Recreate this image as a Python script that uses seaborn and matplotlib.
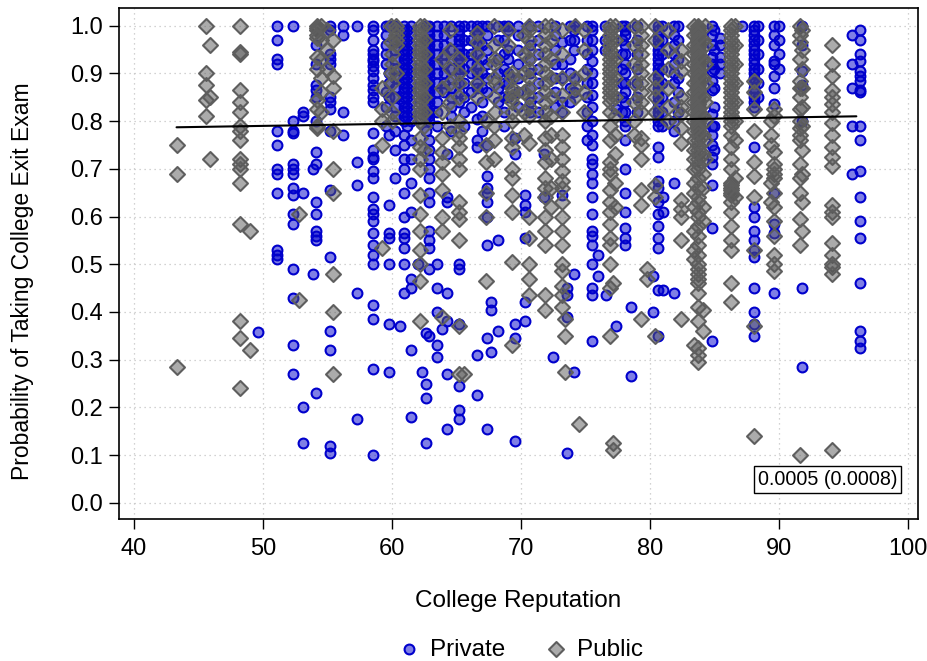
import matplotlib
matplotlib.use("Agg")
import matplotlib.pyplot as plt
import pandas as pd
import seaborn as sns

# Private colleges: (reputation, [exam probabilities]) read column by column
private_cols = [
    (49.6, [0.357]),
    (51.1, [1.0, 0.97, 0.93, 0.92, 0.78, 0.75, 0.70, 0.69, 0.65, 0.53, 0.52, 0.51]),
    (52.3, [1.0, 0.80, 0.78, 0.775, 0.71, 0.70, 0.69, 0.66, 0.645, 0.605, 0.585, 0.49, 0.43, 0.33, 0.27]),
    (53.1, [0.82, 0.81, 0.65, 0.20, 0.125]),
    (53.9, [0.70, 0.48]),
    (54.1, [0.96, 0.92, 0.875, 0.865, 0.85, 0.80, 0.735, 0.71, 0.63, 0.605, 0.57, 0.56, 0.55, 0.23]),
    (55.2, [1.0, 0.99, 0.94, 0.93, 0.92, 0.85, 0.84, 0.825, 0.78, 0.655, 0.515, 0.36, 0.32, 0.12, 0.105]),
    (56.2, [1.0, 0.98, 0.82, 0.77]),
    (57.3, [1.0, 0.715, 0.665, 0.44, 0.175]),
    (58.5, [1.0, 0.99, 0.97, 0.95, 0.94, 0.93, 0.925, 0.915, 0.905, 0.89, 0.875, 0.865, 0.85, 0.84,
            0.775, 0.74, 0.725, 0.72, 0.695, 0.68, 0.64, 0.615, 0.605, 0.59, 0.565, 0.54, 0.52, 0.50,
            0.415, 0.385, 0.28, 0.10]),
    (59.5, [1.0, 0.98, 0.96, 0.94, 0.92, 0.86, 0.83, 0.79]),
    (59.8, [1.0, 0.90, 0.88, 0.85, 0.77, 0.625, 0.565, 0.555, 0.50, 0.375, 0.275]),
    (60.2, [1.0, 0.97, 0.95, 0.93, 0.91, 0.89, 0.87, 0.85, 0.83, 0.81, 0.78, 0.74, 0.68]),
    (60.6, [0.37]),
    (60.9, [1.0, 0.99, 0.98, 0.97, 0.96, 0.95, 0.94, 0.93, 0.92, 0.91, 0.90, 0.89, 0.88, 0.87, 0.86,
            0.85, 0.84, 0.83, 0.82, 0.81, 0.80, 0.77, 0.75, 0.72, 0.70, 0.65, 0.60, 0.565, 0.555,
            0.535, 0.50, 0.44]),
    (61.2, [0.99, 0.97, 0.95, 0.93, 0.91, 0.89, 0.87, 0.85, 0.83, 0.81, 0.79]),
    (61.5, [1.0, 0.98, 0.96, 0.94, 0.92, 0.90, 0.88, 0.86, 0.84, 0.82, 0.80, 0.76, 0.72, 0.67, 0.61,
            0.47, 0.45, 0.32, 0.18]),
    (62.0, [0.50]),
    (62.3, [0.274]),
    (62.6, [1.0, 0.97, 0.95, 0.93, 0.91, 0.89, 0.87, 0.85, 0.83, 0.81, 0.78, 0.355, 0.25, 0.22, 0.125]),
    (62.9, [1.0, 0.99, 0.98, 0.97, 0.96, 0.95, 0.94, 0.93, 0.92, 0.91, 0.90, 0.89, 0.88, 0.87, 0.86,
            0.85, 0.84, 0.83, 0.82, 0.81, 0.80, 0.76, 0.74, 0.72, 0.70, 0.68, 0.65, 0.63, 0.57, 0.55,
            0.535, 0.49, 0.35]),
    (63.5, [1.0, 0.98, 0.96, 0.94, 0.92, 0.90, 0.88, 0.86, 0.84, 0.82, 0.79, 0.50, 0.45, 0.40, 0.33, 0.305]),
    (63.9, [0.365]),
    (64.0, [1.0, 0.98, 0.96, 0.94, 0.92, 0.90, 0.88, 0.86]),
    (64.3, [0.73, 0.64, 0.63, 0.44, 0.38, 0.27, 0.155]),
    (64.6, [1.0, 0.97, 0.95, 0.93, 0.91, 0.89, 0.87, 0.85, 0.83, 0.81, 0.78]),
    (65.2, [1.0, 0.99, 0.98, 0.97, 0.96, 0.95, 0.94, 0.93, 0.92, 0.91, 0.90, 0.88, 0.86, 0.84,
            0.50, 0.49, 0.375, 0.245, 0.195, 0.175]),
    (65.6, [1.0, 0.97, 0.94, 0.91, 0.88, 0.85, 0.82, 0.79]),
    (66.1, [1.0, 0.97, 0.94, 0.92, 0.90, 0.86, 0.83]),
    (66.6, [1.0, 0.99, 0.98, 0.96, 0.94, 0.92, 0.90, 0.88, 0.87, 0.805, 0.76, 0.745, 0.31, 0.225]),
    (67.0, [1.0, 0.96, 0.93, 0.90, 0.87, 0.84, 0.81, 0.78]),
    (67.4, [1.0, 0.98, 0.95, 0.92, 0.89, 0.86, 0.75, 0.685, 0.66, 0.65, 0.63, 0.60, 0.54, 0.345, 0.155]),
    (67.7, [0.42, 0.405, 0.315]),
    (68.2, [1.0, 0.97, 0.93, 0.90, 0.87, 0.84, 0.55, 0.36]),
    (68.7, [1.0, 0.97, 0.94, 0.91, 0.88, 0.85, 0.82, 0.79]),
    (69.0, [1.0, 0.99, 0.95, 0.93, 0.90, 0.88, 0.85]),
    (69.5, [0.765, 0.73, 0.375, 0.345, 0.13]),
    (69.8, [1.0, 0.98, 0.95, 0.92, 0.89, 0.86, 0.83]),
    (70.3, [0.645, 0.625, 0.61, 0.555, 0.42, 0.38]),
    (70.7, [1.0, 0.96, 0.93, 0.90, 0.87, 0.84, 0.82]),
    (71.3, [1.0, 0.97, 0.94, 0.91, 0.88, 0.85, 0.82]),
    (71.8, [0.73, 0.64]),
    (72.5, [0.305]),
    (72.6, [1.0, 0.98, 0.95, 0.92, 0.89, 0.86, 0.83]),
    (73.2, [0.965, 0.92, 0.89, 0.84, 0.82, 0.645]),
    (73.6, [0.45, 0.435, 0.39, 0.105]),
    (73.8, [1.0, 0.97, 0.93, 0.90, 0.87, 0.84]),
    (74.1, [1.0, 0.99, 0.97, 0.95, 0.89, 0.86, 0.48, 0.275]),
    (75.1, [1.0, 0.97, 0.94, 0.91, 0.88, 0.85, 0.82, 0.79, 0.76]),
    (75.5, [1.0, 0.99, 0.97, 0.95, 0.925, 0.90, 0.88, 0.855, 0.83, 0.80, 0.77, 0.75, 0.72, 0.71,
            0.69, 0.67, 0.64, 0.605, 0.57, 0.56, 0.54, 0.50, 0.45, 0.435, 0.34]),
    (76.0, [0.52, 0.475]),
    (76.5, [1.0, 0.97, 0.95]),
    (76.6, [0.435]),
    (77.4, [0.825, 0.37]),
    (77.8, [1.0, 0.97, 0.94, 0.91, 0.88, 0.85, 0.82]),
    (78.1, [1.0, 0.99, 0.98, 0.96, 0.94, 0.92, 0.90, 0.88, 0.86, 0.84, 0.82, 0.80, 0.79, 0.76, 0.70,
            0.65, 0.61, 0.575, 0.555, 0.54]),
    (78.5, [0.41, 0.265]),
    (79.0, [1.0, 0.97, 0.94, 0.91, 0.88, 0.85, 0.82]),
    (80.2, [0.475, 0.40]),
    (80.6, [1.0, 0.99, 0.98, 0.97, 0.96, 0.95, 0.94, 0.93, 0.92, 0.91, 0.90, 0.89, 0.88, 0.87, 0.86,
            0.85, 0.84, 0.83, 0.82, 0.81, 0.80, 0.79, 0.745, 0.725, 0.675, 0.66, 0.63, 0.605, 0.58,
            0.555, 0.535, 0.445, 0.35]),
    (80.9, [1.0, 0.97, 0.94, 0.91, 0.88, 0.85, 0.82, 0.79]),
    (81.0, [0.64, 0.61, 0.445]),
    (81.9, [1.0, 0.98, 0.96, 0.94, 0.92, 0.90, 0.88, 0.84, 0.80, 0.78, 0.67, 0.44]),
    (82.2, [1.0, 0.97, 0.93, 0.89, 0.86, 0.82]),
    (84.8, [1.0, 0.98, 0.96, 0.935, 0.92, 0.905, 0.885, 0.865, 0.815, 0.79, 0.77, 0.75, 0.725, 0.71,
            0.665, 0.575, 0.34]),
    (85.0, [0.99, 0.95, 0.91, 0.87, 0.83, 0.79, 0.74]),
    (85.4, [0.975, 0.96, 0.935, 0.92, 0.90]),
    (87.1, [1.0]),
    (88.1, [1.0, 0.99, 0.98, 0.97, 0.96, 0.95, 0.94, 0.93, 0.92, 0.91, 0.90, 0.89, 0.88, 0.87, 0.86,
            0.85, 0.84, 0.83, 0.745, 0.62, 0.60, 0.57, 0.55, 0.53, 0.515, 0.45, 0.40, 0.375, 0.35]),
    (88.4, [1.0, 0.97, 0.94, 0.91, 0.88, 0.85]),
    (89.6, [1.0, 0.98, 0.96, 0.925, 0.92, 0.895, 0.87, 0.835, 0.65, 0.585, 0.565, 0.44]),
    (90.0, [1.0, 0.97, 0.94, 0.91]),
    (91.8, [1.0, 0.96, 0.905, 0.875, 0.80, 0.45, 0.285]),
    (95.7, [0.98, 0.92, 0.87, 0.79, 0.69]),
    (96.3, [0.99, 0.97, 0.94, 0.925, 0.905, 0.895, 0.885, 0.865, 0.86, 0.79, 0.76, 0.695, 0.64,
            0.59, 0.555, 0.46, 0.36, 0.34, 0.325]),
]

# Public colleges
public_cols = [
    (43.3, [0.75, 0.69, 0.285]),
    (45.6, [1.0, 0.90, 0.875, 0.845, 0.81]),
    (45.9, [0.96, 0.85, 0.72]),
    (48.2, [1.0, 0.945, 0.94, 0.865, 0.84, 0.82, 0.79, 0.78, 0.76, 0.72, 0.71, 0.70, 0.67, 0.585,
            0.38, 0.345, 0.24]),
    (49.0, [0.57, 0.32]),
    (52.8, [0.605, 0.425]),
    (54.2, [1.0, 0.995, 0.99, 0.98, 0.975, 0.935, 0.91, 0.845, 0.825, 0.79, 0.785]),
    (54.5, [1.0, 0.97, 0.93, 0.89, 0.86, 0.82]),
    (55.0, [0.99, 0.95, 0.91]),
    (55.4, [0.97, 0.895, 0.87, 0.78, 0.70, 0.65, 0.48, 0.40, 0.27]),
    (59.2, [0.87, 0.825, 0.80, 0.75, 0.535]),
    (59.9, [1.0, 0.965, 0.90]),
    (60.0, [0.94, 0.92, 0.88, 0.85, 0.82, 0.80]),
    (60.3, [1.0, 0.99, 0.98, 0.97, 0.96, 0.90]),
    (62.2, [1.0, 0.99, 0.98, 0.97, 0.96, 0.95, 0.94, 0.93, 0.92, 0.91, 0.90, 0.89, 0.88, 0.87, 0.86,
            0.85, 0.84, 0.83, 0.82, 0.81, 0.80, 0.765, 0.745, 0.72, 0.70, 0.645, 0.605, 0.57, 0.53,
            0.50, 0.465, 0.38]),
    (62.5, [1.0, 0.97, 0.94, 0.91, 0.88, 0.85, 0.82, 0.79, 0.74]),
    (63.9, [0.93, 0.87, 0.82, 0.765, 0.735, 0.715, 0.69, 0.655, 0.60, 0.57, 0.39]),
    (64.5, [0.99, 0.95, 0.91, 0.88, 0.84, 0.79]),
    (65.2, [0.93, 0.90, 0.88, 0.85, 0.80, 0.78, 0.765, 0.745, 0.72, 0.70, 0.63, 0.61, 0.595, 0.55,
            0.37, 0.27]),
    (65.6, [0.27]),
    (66.6, [0.985, 0.965, 0.94, 0.91, 0.88, 0.85]),
    (67.3, [0.80, 0.75, 0.715, 0.65, 0.60, 0.465]),
    (67.9, [1.0, 0.96, 0.92, 0.89, 0.85, 0.79, 0.76, 0.72]),
    (68.0, [0.93, 0.88, 0.82]),
    (69.0, [0.99, 0.96]),
    (69.3, [0.90, 0.89, 0.87, 0.86, 0.85, 0.84, 0.82, 0.80, 0.765, 0.745, 0.70, 0.68, 0.645, 0.61,
            0.505, 0.33]),
    (70.2, [0.98, 0.94, 0.90, 0.86, 0.82, 0.77]),
    (70.6, [1.0, 0.99, 0.97, 0.95, 0.93, 0.91, 0.89, 0.87, 0.85, 0.83, 0.81, 0.755, 0.60, 0.555,
            0.50, 0.47, 0.435]),
    (71.9, [1.0, 0.98, 0.96, 0.94, 0.92, 0.90, 0.88, 0.86, 0.84, 0.82, 0.80, 0.765, 0.74, 0.715,
            0.68, 0.66, 0.64, 0.60, 0.57, 0.54, 0.435, 0.405]),
    (72.3, [1.0, 0.97, 0.93, 0.89, 0.85, 0.81, 0.77, 0.72, 0.66, 0.62]),
    (73.2, [0.99, 0.94, 0.89, 0.855, 0.82, 0.77, 0.745, 0.72, 0.695, 0.675, 0.66, 0.63, 0.60, 0.57,
            0.54, 0.50, 0.485, 0.455, 0.435, 0.41]),
    (73.4, [0.385, 0.35, 0.275]),
    (74.2, [1.0, 0.89, 0.87, 0.85]),
    (74.5, [0.165]),
    (74.9, [0.99, 0.95, 0.90, 0.86, 0.82]),
    (76.9, [1.0, 0.99, 0.98, 0.97, 0.96, 0.95, 0.94, 0.93, 0.92, 0.91, 0.90, 0.89, 0.88, 0.87, 0.86,
            0.85, 0.84, 0.82, 0.79, 0.76, 0.715, 0.70, 0.69, 0.655, 0.63, 0.61, 0.585, 0.555, 0.54,
            0.50, 0.45, 0.35]),
    (77.1, [0.46, 0.125, 0.11]),
    (77.3, [1.0, 0.97, 0.93, 0.89, 0.85, 0.81, 0.77, 0.73, 0.67, 0.62]),
    (78.8, [1.0, 0.96, 0.92, 0.88, 0.84, 0.80, 0.77]),
    (79.3, [1.0, 0.98, 0.96, 0.94, 0.92, 0.90, 0.88, 0.86, 0.84, 0.82, 0.765, 0.75, 0.72, 0.655,
            0.625, 0.385]),
    (79.8, [0.49, 0.47]),
    (80.4, [1.0, 0.97, 0.89, 0.87, 0.85, 0.82, 0.665, 0.64, 0.35]),
    (81.4, [0.99, 0.95, 0.91, 0.87, 0.83, 0.80]),
    (82.4, [0.95, 0.925, 0.905, 0.85, 0.83, 0.815, 0.785, 0.755, 0.635, 0.615, 0.60, 0.55, 0.385]),
    (83.4, [1.0, 0.98, 0.96, 0.94, 0.92, 0.90, 0.88, 0.86, 0.84, 0.82, 0.80, 0.78, 0.76, 0.74, 0.72,
            0.70, 0.67, 0.65, 0.62, 0.57, 0.53, 0.51, 0.33]),
    (83.7, [1.0, 0.995, 0.99, 0.985, 0.98, 0.975, 0.97, 0.965, 0.96, 0.955, 0.95, 0.945, 0.94, 0.935,
            0.93, 0.925, 0.92, 0.915, 0.91, 0.905, 0.90, 0.895, 0.89, 0.885, 0.88, 0.875, 0.87, 0.865,
            0.86, 0.855, 0.85, 0.845, 0.84, 0.835, 0.83, 0.825, 0.82, 0.815, 0.81, 0.805, 0.80, 0.795,
            0.79, 0.785, 0.78, 0.77, 0.76, 0.75, 0.74, 0.73, 0.72, 0.71, 0.70, 0.68, 0.66, 0.64, 0.63,
            0.61, 0.60, 0.58, 0.56, 0.54, 0.52, 0.50, 0.49, 0.48, 0.47, 0.46, 0.44, 0.41, 0.38, 0.325,
            0.31, 0.295]),
    (84.1, [0.97, 0.93, 0.89, 0.85, 0.81, 0.77, 0.73, 0.69, 0.66, 0.62, 0.59, 0.405, 0.36]),
    (84.3, [1.0, 0.96, 0.92, 0.88, 0.84, 0.80, 0.76, 0.72]),
    (86.3, [1.0, 0.99, 0.98, 0.97, 0.96, 0.95, 0.94, 0.93, 0.92, 0.91, 0.90, 0.89, 0.88, 0.87, 0.86,
            0.85, 0.84, 0.83, 0.82, 0.81, 0.80, 0.79, 0.77, 0.745, 0.72, 0.70, 0.67, 0.665, 0.66,
            0.655, 0.65, 0.645, 0.63, 0.61, 0.58, 0.55, 0.53, 0.46, 0.42]),
    (86.6, [1.0, 0.96, 0.92, 0.88, 0.84, 0.80, 0.76, 0.68, 0.64]),
    (88.1, [0.885, 0.86, 0.825, 0.78, 0.715, 0.685, 0.64, 0.53, 0.37, 0.14]),
    (89.4, [0.80, 0.77, 0.75, 0.67, 0.63]),
    (89.6, [0.825, 0.81, 0.735, 0.71, 0.70, 0.69, 0.68, 0.65, 0.62, 0.59, 0.56, 0.52, 0.50, 0.485]),
    (91.6, [1.0, 0.98, 0.965, 0.93, 0.885, 0.87, 0.85, 0.825, 0.80, 0.785, 0.77, 0.76, 0.71, 0.68,
            0.65, 0.595, 0.54, 0.10]),
    (91.8, [0.99, 0.95, 0.91, 0.87, 0.83, 0.79, 0.74, 0.69, 0.63, 0.57]),
    (94.1, [0.96, 0.92, 0.895, 0.865, 0.85, 0.835, 0.82, 0.795, 0.77, 0.745, 0.725, 0.705, 0.625,
            0.61, 0.60, 0.545, 0.52, 0.50, 0.495, 0.48, 0.11]),
]

# fitted line endpoints and coefficient label
fit_x = [43.3, 96.0]
fit_y = [0.787, 0.810]
coef_text = "0.0005 (0.0008)"


def to_frame(cols, group):
    rows = [(x, y, group) for x, ys in cols for y in ys]
    return pd.DataFrame(rows, columns=["reputation", "prob", "sector"])


def main():
    priv = to_frame(private_cols, "Private")
    pub = to_frame(public_cols, "Public")

    sns.set_style("white")
    plt.rcParams["font.family"] = ["Liberation Sans", "DejaVu Sans"]
    for key in ["text.color", "axes.labelcolor", "xtick.color", "ytick.color"]:
        plt.rcParams[key] = "black"

    fig, ax = plt.subplots(figsize=(9.27, 6.61), dpi=100)
    fig.subplots_adjust(left=0.1284, right=0.9903, bottom=0.2148, top=0.9879)

    # grid first so points sit on top
    ax.set_axisbelow(True)
    ax.grid(True, color="#c4c4c4", linestyle=(0, (1, 3)), linewidth=0.9)

    sns.scatterplot(data=priv, x="reputation", y="prob", ax=ax, marker="o", s=50,
                    color=(0.0, 0.0, 0.8, 0.5), edgecolor="#0000cc", linewidth=1.5,
                    label="Private")
    sns.scatterplot(data=pub, x="reputation", y="prob", ax=ax, marker="D", s=58,
                    color=(0.35, 0.35, 0.35, 0.5), edgecolor="#5e5e5e", linewidth=1.5,
                    label="Public")

    sns.lineplot(x=fit_x, y=fit_y, ax=ax, color="black", linewidth=1.5, legend=False)

    ax.text(93.76, 0.049, coef_text, ha="center", va="center", fontsize=14.2,
            bbox=dict(boxstyle="square,pad=0.2", facecolor="white", edgecolor="black", linewidth=1))

    ax.set_xlim(38.84, 100.78)
    ax.set_ylim(-0.034, 1.037)
    ax.set_xticks([40, 50, 60, 70, 80, 90, 100])
    ax.set_yticks([i / 10 for i in range(11)])
    ax.set_yticklabels([f"{i / 10:.1f}" for i in range(11)])
    ax.tick_params(axis="both", direction="out", length=7.5, width=1, labelsize=17,
                   color="black", bottom=True, left=True)
    ax.tick_params(axis="x", pad=6)
    ax.tick_params(axis="y", pad=4)
    for sp in ax.spines.values():
        sp.set_visible(True)
        sp.set_color("black")
        sp.set_linewidth(1.2)

    ax.set_xlabel("College Reputation", fontsize=17.5, labelpad=22)
    ax.set_ylabel("Probability of Taking College Exit Exam", fontsize=16.5)
    # label sits a bit below the axes middle, as in the original layout
    ax.yaxis.set_label_coords(-0.107, 0.466)

    handles, labels = ax.get_legend_handles_labels()
    if ax.legend_:
        ax.legend_.remove()
    fig.legend(handles, labels, loc="center", bbox_to_anchor=(0.561, 0.017), ncol=2,
               frameon=False, fontsize=17.5, handlelength=1.0, handletextpad=0.35,
               columnspacing=1.6)

    fig.savefig("out.png", dpi=100)
    plt.close(fig)


if __name__ == "__main__":
    main()
